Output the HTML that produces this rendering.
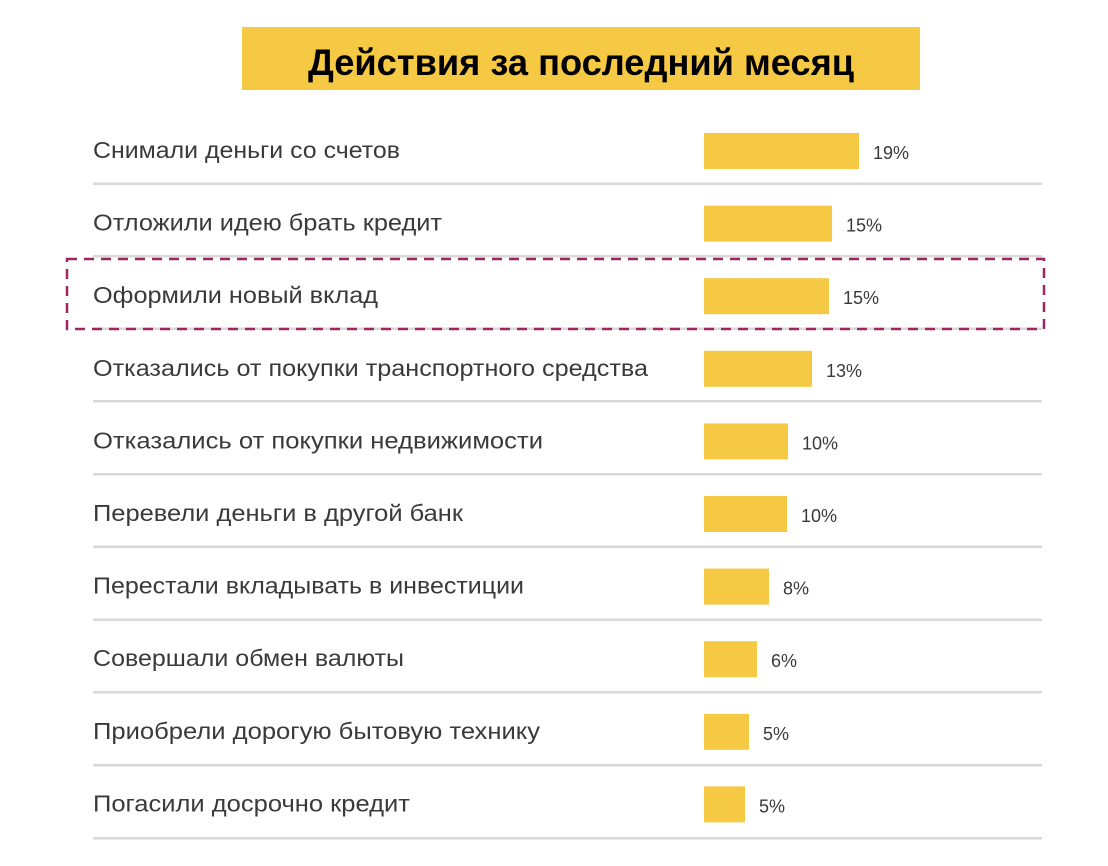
<!DOCTYPE html>
<html><head><meta charset="utf-8"><style>
html,body{margin:0;padding:0;background:#fff;}
svg{display:block;}
</style></head><body>
<svg width="1108" height="866" xmlns="http://www.w3.org/2000/svg" font-family="Liberation Sans, DejaVu Sans, sans-serif">
<rect x="242" y="27" width="678" height="63" fill="#f6c944"/>
<text x="308" y="75" textLength="546" lengthAdjust="spacingAndGlyphs" font-size="37" font-weight="bold" fill="#000">Действия за последний месяц</text>
<g fill="#d9d9d9">
<rect x="93" y="182.5" width="949" height="2.5"/>
<rect x="93" y="255" width="949" height="2.5"/>
<rect x="93" y="327.5" width="949" height="2.5"/>
<rect x="93" y="400" width="949" height="2.5"/>
<rect x="93" y="473" width="949" height="2.5"/>
<rect x="93" y="545.5" width="949" height="2.5"/>
<rect x="93" y="618.5" width="949" height="2.5"/>
<rect x="93" y="691" width="949" height="2.5"/>
<rect x="93" y="764" width="949" height="2.5"/>
<rect x="93" y="837" width="949" height="2.5"/>
</g>
<rect x="67" y="259" width="977" height="70" fill="none" stroke="#9e2462" stroke-width="2.5" stroke-dasharray="10,7"/>
<g fill="#f6c944">
<rect x="704" y="133" width="155" height="36"/>
<rect x="704" y="205.6" width="128" height="36"/>
<rect x="704" y="278.2" width="125" height="36"/>
<rect x="704" y="350.8" width="108" height="36"/>
<rect x="704" y="423.4" width="84" height="36"/>
<rect x="704" y="496" width="83" height="36"/>
<rect x="704" y="568.6" width="65" height="36"/>
<rect x="704" y="641.2" width="53" height="36"/>
<rect x="704" y="713.8" width="45" height="36"/>
<rect x="704" y="786.4" width="41" height="36"/>
</g>
<g font-size="23" fill="#3a3a3a" lengthAdjust="spacingAndGlyphs">
<text x="93" y="158" textLength="307" lengthAdjust="spacingAndGlyphs">Снимали деньги со счетов</text>
<text x="93" y="230.6" textLength="349" lengthAdjust="spacingAndGlyphs">Отложили идею брать кредит</text>
<text x="93" y="303.2" textLength="285" lengthAdjust="spacingAndGlyphs">Оформили новый вклад</text>
<text x="93" y="375.8" textLength="555" lengthAdjust="spacingAndGlyphs">Отказались от покупки транспортного средства</text>
<text x="93" y="448.4" textLength="450" lengthAdjust="spacingAndGlyphs">Отказались от покупки недвижимости</text>
<text x="93" y="521" textLength="370" lengthAdjust="spacingAndGlyphs">Перевели деньги в другой банк</text>
<text x="93" y="593.6" textLength="431" lengthAdjust="spacingAndGlyphs">Перестали вкладывать в инвестиции</text>
<text x="93" y="666.2" textLength="311" lengthAdjust="spacingAndGlyphs">Совершали обмен валюты</text>
<text x="93" y="738.8" textLength="447" lengthAdjust="spacingAndGlyphs">Приобрели дорогую бытовую технику</text>
<text x="93" y="811.4" textLength="317" lengthAdjust="spacingAndGlyphs">Погасили досрочно кредит</text>
</g>
<g font-size="18" fill="#3a3a3a">
<text x="873" y="159">19%</text>
<text x="846" y="231.6">15%</text>
<text x="843" y="304.2">15%</text>
<text x="826" y="376.8">13%</text>
<text x="802" y="449.4">10%</text>
<text x="801" y="522">10%</text>
<text x="783" y="594.6">8%</text>
<text x="771" y="667.2">6%</text>
<text x="763" y="739.8">5%</text>
<text x="759" y="812.4">5%</text>
</g>
</svg>
</body></html>
